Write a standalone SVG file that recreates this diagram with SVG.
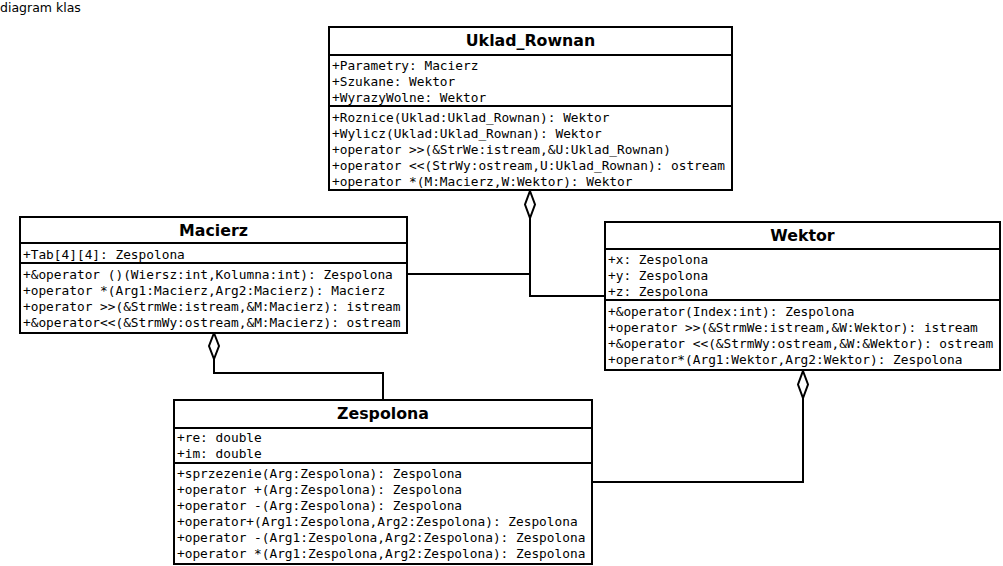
<svg xmlns="http://www.w3.org/2000/svg" width="1003" height="566" viewBox="0 0 1003 566">
<style>
.box{fill:#fff;stroke:#000;stroke-width:2}
.sep{stroke:#000;stroke-width:2}
.t{font-family:"DejaVu Sans Bold","DejaVu Sans",sans-serif;font-weight:bold;font-size:15.8px;text-anchor:middle}
.m{font-family:"DejaVu Sans Mono","Liberation Mono",monospace;font-size:12.8px;white-space:pre}
.c{fill:none;stroke:#000;stroke-width:2}
.d{fill:#fff;stroke:#000;stroke-width:2}
</style>
<rect width="1003" height="566" fill="#fff"/>
<text x="0" y="12" style="font-family:'DejaVu Sans',sans-serif;font-size:12.5px">diagram klas</text>

<g id="connectors">
<path class="c" d="M530,218 V296 H605"/>
<path class="c" d="M530,274 H407"/>
<polygon class="d" points="530,191 535,204.5 530,218 525,204.5"/>
<path class="c" d="M214,359 V373 H383 V400"/>
<polygon class="d" points="214,333 219,346 214,359 209,346"/>
<path class="c" d="M803,398 V482 H592"/>
<polygon class="d" points="803,371 808,384.5 803,398 798,384.5"/>
</g>

<g id="Uklad_Rownan">
<rect class="box" x="329" y="27" width="403" height="163"/>
<line class="sep" x1="329" y1="55" x2="732" y2="55"/>
<line class="sep" x1="329" y1="106" x2="732" y2="106"/>
<text class="t" x="530.5" y="46">Uklad_Rownan</text>
<text class="m" x="332" y="69.5">+Parametry: Macierz</text>
<text class="m" x="332" y="85.5">+Szukane: Wektor</text>
<text class="m" x="332" y="101.5">+WyrazyWolne: Wektor</text>
<text class="m" x="332" y="121.5">+Roznice(Uklad:Uklad_Rownan): Wektor</text>
<text class="m" x="332" y="137.5">+Wylicz(Uklad:Uklad_Rownan): Wektor</text>
<text class="m" x="332" y="153.5">+operator &gt;&gt;(&amp;StrWe:istream,&amp;U:Uklad_Rownan)</text>
<text class="m" x="332" y="169.5">+operator &lt;&lt;(StrWy:ostream,U:Uklad_Rownan): ostream</text>
<text class="m" x="332" y="185.5">+operator *(M:Macierz,W:Wektor): Wektor</text>
</g>

<g id="Macierz">
<rect class="box" x="20" y="217" width="387" height="116"/>
<line class="sep" x1="20" y1="243" x2="407" y2="243"/>
<line class="sep" x1="20" y1="263" x2="407" y2="263"/>
<text class="t" x="213.5" y="236">Macierz</text>
<text class="m" x="23" y="258.5">+Tab[4][4]: Zespolona</text>
<text class="m" x="23" y="278.5">+&amp;operator ()(Wiersz:int,Kolumna:int): Zespolona</text>
<text class="m" x="23" y="294.5">+operator *(Arg1:Macierz,Arg2:Macierz): Macierz</text>
<text class="m" x="23" y="310.5">+operator &gt;&gt;(&amp;StrmWe:istream,&amp;M:Macierz): istream</text>
<text class="m" x="23" y="326.5">+&amp;operator&lt;&lt;(&amp;StrmWy:ostream,&amp;M:Macierz): ostream</text>
</g>

<g id="Wektor">
<rect class="box" x="605" y="222" width="395" height="148"/>
<line class="sep" x1="605" y1="249" x2="1000" y2="249"/>
<line class="sep" x1="605" y1="300" x2="1000" y2="300"/>
<text class="t" x="802.5" y="241">Wektor</text>
<text class="m" x="608" y="263.5">+x: Zespolona</text>
<text class="m" x="608" y="279.5">+y: Zespolona</text>
<text class="m" x="608" y="295.5">+z: Zespolona</text>
<text class="m" x="608" y="315.5">+&amp;operator(Index:int): Zespolona</text>
<text class="m" x="608" y="331.5">+operator &gt;&gt;(&amp;StrmWe:istream,&amp;W:Wektor): istream</text>
<text class="m" x="608" y="347.5">+&amp;operator &lt;&lt;(&amp;StrmWy:ostream,&amp;W:&amp;Wektor): ostream</text>
<text class="m" x="608" y="363.5">+operator*(Arg1:Wektor,Arg2:Wektor): Zespolona</text>
</g>

<g id="Zespolona">
<rect class="box" x="174" y="400" width="418" height="164"/>
<line class="sep" x1="174" y1="428" x2="592" y2="428"/>
<line class="sep" x1="174" y1="463" x2="592" y2="463"/>
<text class="t" x="383" y="419">Zespolona</text>
<text class="m" x="177" y="441.5">+re: double</text>
<text class="m" x="177" y="457.5">+im: double</text>
<text class="m" x="177" y="477.5">+sprzezenie(Arg:Zespolona): Zespolona</text>
<text class="m" x="177" y="493.5">+operator +(Arg:Zespolona): Zespolona</text>
<text class="m" x="177" y="509.5">+operator -(Arg:Zespolona): Zespolona</text>
<text class="m" x="177" y="525.5">+operator+(Arg1:Zespolona,Arg2:Zespolona): Zespolona</text>
<text class="m" x="177" y="541.5">+operator -(Arg1:Zespolona,Arg2:Zespolona): Zespolona</text>
<text class="m" x="177" y="557.5">+operator *(Arg1:Zespolona,Arg2:Zespolona): Zespolona</text>
</g>
</svg>
